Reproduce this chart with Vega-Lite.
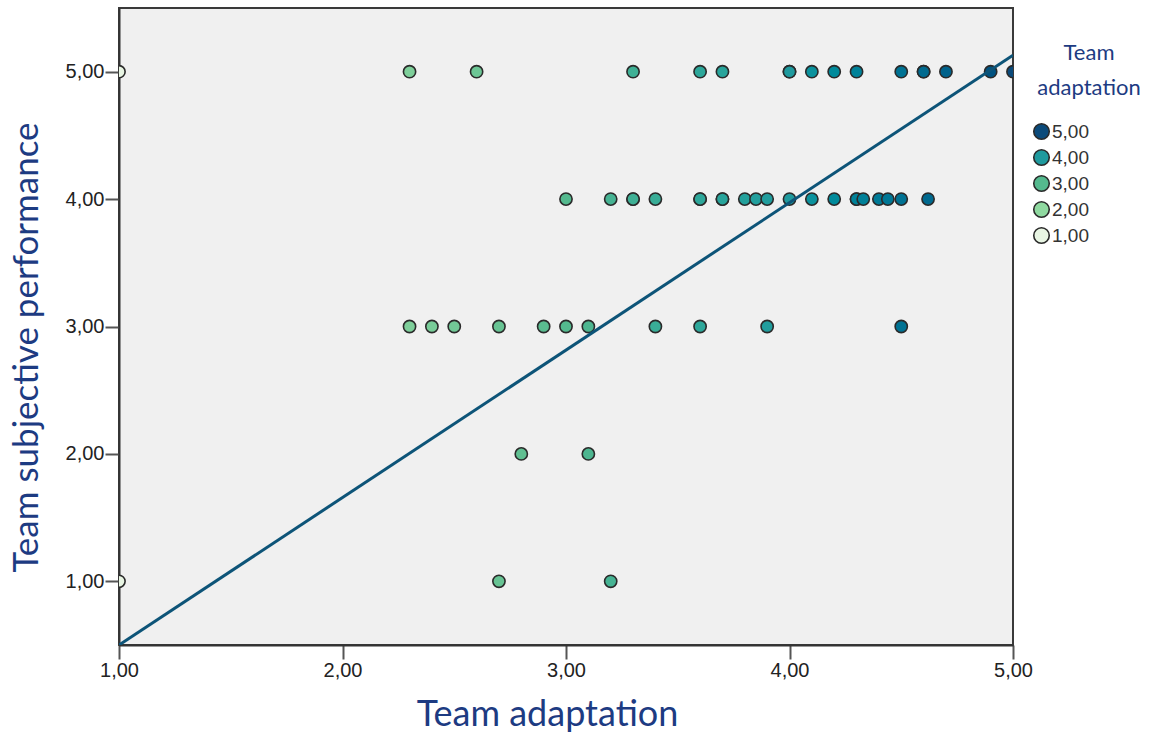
{
  "$schema": "https://vega.github.io/schema/vega-lite/v6.json",
  "autosize": "none",
  "width": 894,
  "height": 637,
  "padding": {"left": 119, "top": 8, "right": 139, "bottom": 90},
  "background": "#ffffff",
  "config": {
    "view": {"fill": "#f0f0f0", "stroke": "#3a3a3a", "strokeWidth": 2},
    "axis": {
      "grid": false,
      "domainColor": "#333333",
      "domainWidth": 2,
      "tickColor": "#555555",
      "tickWidth": 2,
      "tickSize": 14,
      "labelFont": "Liberation Sans",
      "labelFontSize": 20,
      "labelColor": "#222222",
      "labelPadding": 1,
      "labelFlush": false,
      "titleFont": "Lato",
      "titleFontWeight": "normal",
      "titleColor": "#1d3b82"
    }
  },
  "datasets": {
    "pts": [
      {"adapt": 1.0, "perf": 5}, {"adapt": 2.3, "perf": 5}, {"adapt": 2.6, "perf": 5}, {"adapt": 3.3, "perf": 5},
      {"adapt": 3.6, "perf": 5}, {"adapt": 3.7, "perf": 5}, {"adapt": 4.0, "perf": 5}, {"adapt": 4.0, "perf": 5},
      {"adapt": 4.1, "perf": 5}, {"adapt": 4.2, "perf": 5}, {"adapt": 4.3, "perf": 5}, {"adapt": 4.5, "perf": 5},
      {"adapt": 4.6, "perf": 5}, {"adapt": 4.6, "perf": 5}, {"adapt": 4.7, "perf": 5}, {"adapt": 4.9, "perf": 5},
      {"adapt": 5.0, "perf": 5},
      {"adapt": 3.0, "perf": 4}, {"adapt": 3.2, "perf": 4}, {"adapt": 3.3, "perf": 4}, {"adapt": 3.3, "perf": 4},
      {"adapt": 3.4, "perf": 4}, {"adapt": 3.6, "perf": 4}, {"adapt": 3.6, "perf": 4}, {"adapt": 3.7, "perf": 4},
      {"adapt": 3.7, "perf": 4}, {"adapt": 3.8, "perf": 4}, {"adapt": 3.85, "perf": 4}, {"adapt": 3.9, "perf": 4},
      {"adapt": 4.0, "perf": 4}, {"adapt": 4.1, "perf": 4}, {"adapt": 4.2, "perf": 4}, {"adapt": 4.3, "perf": 4},
      {"adapt": 4.3, "perf": 4}, {"adapt": 4.33, "perf": 4}, {"adapt": 4.4, "perf": 4}, {"adapt": 4.44, "perf": 4},
      {"adapt": 4.5, "perf": 4}, {"adapt": 4.62, "perf": 4},
      {"adapt": 2.3, "perf": 3}, {"adapt": 2.4, "perf": 3}, {"adapt": 2.5, "perf": 3}, {"adapt": 2.7, "perf": 3},
      {"adapt": 2.9, "perf": 3}, {"adapt": 3.0, "perf": 3}, {"adapt": 3.1, "perf": 3}, {"adapt": 3.4, "perf": 3},
      {"adapt": 3.6, "perf": 3}, {"adapt": 3.9, "perf": 3}, {"adapt": 4.5, "perf": 3},
      {"adapt": 2.8, "perf": 2}, {"adapt": 3.1, "perf": 2},
      {"adapt": 1.0, "perf": 1}, {"adapt": 2.7, "perf": 1}, {"adapt": 3.2, "perf": 1}
    ],
    "fit": [
      {"adapt": 1.0, "perf": 0.5},
      {"adapt": 5.0, "perf": 5.13}
    ]
  },
  "layer": [
    {
      "data": {"name": "pts"},
      "mark": {"type": "circle", "size": 150, "opacity": 1, "stroke": "#2a2a2a", "strokeWidth": 1.6, "clip": true},
      "encoding": {
        "x": {
          "field": "adapt", "type": "quantitative",
          "scale": {"domain": [1, 5], "nice": false, "zero": false},
          "axis": {
            "title": "Team adaptation",
            "values": [1, 2, 3, 4, 5],
            "labelExpr": "replace(format(datum.value, '.2f'), '.', ',')",
            "titleFontSize": 36,
            "titleX": 428, "titleY": 80, "titleBaseline": "alphabetic"
          }
        },
        "y": {
          "field": "perf", "type": "quantitative",
          "scale": {"domain": [0.5, 5.5], "nice": false, "zero": false},
          "axis": {
            "title": "Team subjective performance",
            "values": [1, 2, 3, 4, 5],
            "labelExpr": "replace(format(datum.value, '.2f'), '.', ',')",
            "titleFontSize": 35,
            "titleX": -82, "titleY": 339, "titleBaseline": "alphabetic", "titleAngle": 270
          }
        },
        "color": {
          "field": "adapt", "type": "quantitative",
          "scale": {"domain": [1, 2, 3, 4, 5], "range": ["#e8f5e3", "#8fd9a0", "#54b98e", "#1f9a9e", "#0b4a7a"]},
          "legend": {
            "type": "symbol",
            "title": ["Team", "adaptation"],
            "values": [5, 4, 3, 2, 1],
            "labelExpr": "replace(format(datum.value, '.2f'), '.', ',')",
            "orient": "none",
            "legendX": 913,
            "legendY": 35,
            "titleFont": "Lato",
            "titleFontSize": 22,
            "titleFontWeight": "normal",
            "titleColor": "#1d3b82",
            "titleAlign": "center",
            "titleAnchor": "end",
            "titleLineHeight": 35,
            "titlePadding": 22,
            "labelFont": "Liberation Sans",
            "labelFontSize": 19,
            "labelColor": "#333333",
            "labelOffset": 1,
            "symbolType": "circle",
            "symbolSize": 240,
            "symbolStrokeColor": "#2a2a2a",
            "symbolStrokeWidth": 1.6,
            "rowPadding": 3
          }
        }
      }
    },
    {
      "data": {"name": "fit"},
      "mark": {"type": "line", "color": "#0d5478", "strokeWidth": 3, "clip": true},
      "encoding": {
        "x": {"field": "adapt", "type": "quantitative"},
        "y": {"field": "perf", "type": "quantitative"}
      }
    }
  ]
}
